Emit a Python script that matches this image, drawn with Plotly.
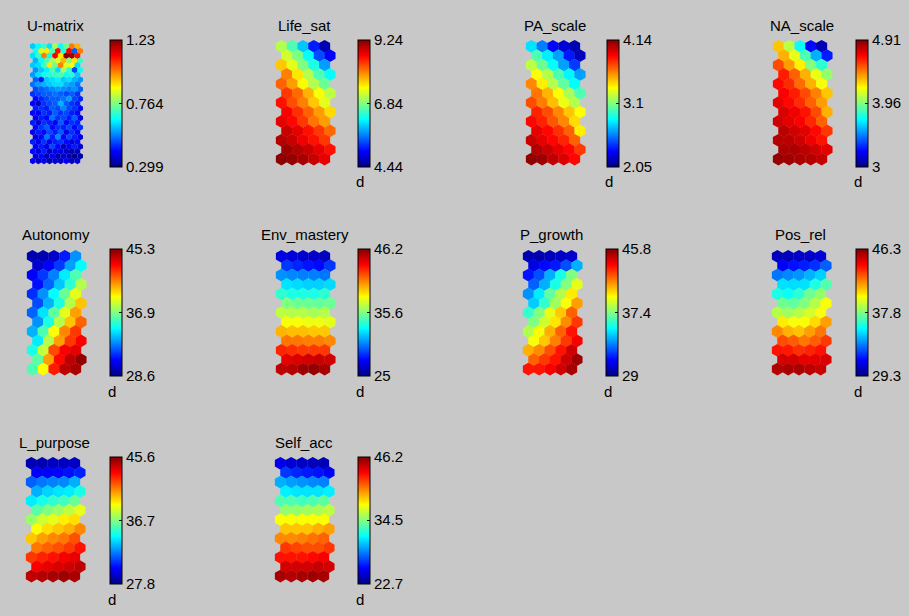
import plotly.graph_objects as go

# ---------------- data ----------------
names = ["U-matrix", "Life_sat", "PA_scale", "NA_scale", "Autonomy",
         "Env_mastery", "P_growth", "Pos_rel", "L_purpose", "Self_acc"]
range_min = [0.299, 4.44, 2.05, 3.0, 28.6, 25.0, 29.0, 29.3, 27.8, 22.7]
range_max = [1.23, 9.24, 4.14, 4.91, 45.3, 46.2, 45.8, 46.3, 45.6, 46.2]
range_mid = [0.764, 6.84, 3.1, 3.96, 36.9, 35.6, 37.4, 37.8, 36.7, 34.5]
tick_min = ["0.299", "4.44", "2.05", "3", "28.6", "25", "29", "29.3", "27.8", "22.7"]
tick_mid = ["0.764", "6.84", "3.1", "3.96", "36.9", "35.6", "37.4", "37.8", "36.7", "34.5"]
tick_max = ["1.23", "9.24", "4.14", "4.91", "45.3", "46.2", "45.8", "46.3", "45.6", "46.2"]
unit_label = ["", "d", "d", "d", "d", "d", "d", "d", "d", "d"]

umatrix = [
    [0.60, 0.65, 0.70, 0.62, 0.80, 0.66, 0.75, 1.00, 0.95],
    [0.66, 0.85, 0.90, 0.72, 1.10, 0.68, 1.12, 0.50, 1.00],
    [0.62, 0.70, 1.00, 0.66, 1.12, 0.90, 1.22, 1.20, 1.10],
    [0.58, 0.65, 0.72, 0.80, 0.85, 0.95, 0.78, 0.90, 0.70],
    [0.60, 0.62, 0.70, 0.90, 0.75, 1.00, 0.85, 0.88, 0.62],
    [0.55, 0.60, 0.64, 0.72, 0.62, 0.80, 0.70, 0.48, 0.66],
    [0.56, 0.62, 0.66, 0.68, 0.70, 0.72, 0.66, 0.68, 0.60],
    [0.50, 0.44, 0.60, 0.62, 0.64, 0.60, 0.62, 0.58, 0.55],
    [0.52, 0.56, 0.58, 0.60, 0.62, 0.62, 0.58, 0.56, 0.52],
    [0.48, 0.50, 0.52, 0.54, 0.56, 0.55, 0.53, 0.55, 0.50],
    [0.46, 0.48, 0.50, 0.50, 0.52, 0.50, 0.48, 0.50, 0.46],
    [0.42, 0.45, 0.48, 0.50, 0.50, 0.52, 0.56, 0.48, 0.45],
    [0.40, 0.36, 0.46, 0.48, 0.50, 0.58, 0.50, 0.46, 0.44],
    [0.44, 0.46, 0.44, 0.50, 0.48, 0.54, 0.48, 0.46, 0.42],
    [0.42, 0.40, 0.46, 0.44, 0.50, 0.46, 0.48, 0.44, 0.42],
    [0.40, 0.44, 0.42, 0.52, 0.46, 0.48, 0.44, 0.50, 0.40],
    [0.44, 0.38, 0.46, 0.44, 0.40, 0.50, 0.42, 0.46, 0.44],
    [0.42, 0.46, 0.50, 0.42, 0.46, 0.44, 0.48, 0.42, 0.46],
    [0.40, 0.44, 0.42, 0.48, 0.44, 0.50, 0.40, 0.46, 0.42],
    [0.38, 0.42, 0.52, 0.44, 0.54, 0.42, 0.48, 0.44, 0.40],
    [0.44, 0.40, 0.46, 0.40, 0.44, 0.46, 0.42, 0.38, 0.42],
    [0.40, 0.44, 0.40, 0.48, 0.42, 0.36, 0.40, 0.44, 0.38],
    [0.42, 0.38, 0.44, 0.36, 0.40, 0.38, 0.36, 0.34, 0.36],
    [0.38, 0.42, 0.36, 0.40, 0.34, 0.38, 0.35, 0.32, 0.34],
    [0.40, 0.36, 0.40, 0.34, 0.38, 0.36, 0.40, 0.36, 0.38],
]

life_sat = [
    [7.08, 6.60, 5.98, 5.16, 4.68],
    [7.22, 6.84, 6.26, 5.40, 5.02],
    [7.70, 7.32, 6.84, 6.36, 5.78],
    [8.04, 7.56, 7.08, 6.60, 6.26],
    [8.18, 7.90, 7.46, 7.08, 6.74],
    [8.38, 8.14, 7.80, 7.42, 7.13],
    [8.57, 8.28, 8.04, 7.70, 7.32],
    [8.66, 8.42, 8.18, 7.90, 7.61],
    [8.76, 8.62, 8.38, 8.09, 7.90],
    [8.90, 8.76, 8.57, 8.38, 8.14],
    [9.00, 8.90, 8.71, 8.57, 8.38],
    [9.10, 9.00, 8.90, 8.76, 8.57],
    [9.19, 9.14, 9.05, 8.90, 8.76],
]

pa_scale = [
    [2.78, 2.57, 2.32, 2.22, 2.15],
    [2.99, 2.80, 2.64, 2.36, 2.18],
    [3.22, 3.05, 2.84, 2.64, 2.43],
    [3.35, 3.20, 2.99, 2.82, 2.64],
    [3.60, 3.39, 3.20, 3.03, 2.84],
    [3.64, 3.51, 3.35, 3.18, 2.99],
    [3.72, 3.62, 3.49, 3.32, 3.20],
    [3.81, 3.72, 3.60, 3.47, 3.35],
    [3.87, 3.81, 3.70, 3.60, 3.43],
    [3.93, 3.87, 3.78, 3.68, 3.39],
    [3.99, 3.93, 3.87, 3.81, 3.68],
    [4.04, 3.99, 3.93, 3.87, 3.76],
    [4.10, 4.08, 4.01, 3.95, 3.87],
]

na_scale = [
    [4.30, 4.07, 3.73, 3.25, 3.10],
    [4.34, 4.15, 3.86, 3.57, 3.29],
    [4.53, 4.38, 4.22, 3.96, 3.80],
    [4.62, 4.49, 4.34, 4.15, 3.99],
    [4.66, 4.59, 4.47, 4.34, 4.18],
    [4.68, 4.62, 4.53, 4.43, 4.30],
    [4.72, 4.66, 4.59, 4.49, 4.38],
    [4.74, 4.70, 4.64, 4.53, 4.34],
    [4.76, 4.72, 4.68, 4.60, 4.49],
    [4.80, 4.76, 4.72, 4.66, 4.57],
    [4.81, 4.80, 4.76, 4.70, 4.64],
    [4.83, 4.83, 4.80, 4.76, 4.72],
    [4.87, 4.85, 4.83, 4.81, 4.78],
]

autonomy = [
    [29.4, 29.4, 29.8, 31.1, 33.1],
    [29.9, 30.6, 31.6, 33.3, 34.9],
    [30.6, 31.6, 32.8, 34.6, 36.1],
    [30.9, 32.3, 33.9, 35.6, 37.8],
    [31.4, 33.1, 34.9, 36.6, 38.6],
    [31.9, 33.6, 35.3, 37.8, 40.0],
    [32.3, 34.4, 36.4, 38.6, 40.6],
    [33.1, 35.3, 37.8, 40.0, 41.6],
    [33.6, 36.1, 39.0, 41.0, 42.3],
    [34.6, 37.8, 40.6, 42.3, 43.3],
    [35.3, 38.1, 42.0, 43.3, 43.6],
    [36.4, 40.6, 43.1, 44.3, 45.0],
    [36.1, 39.0, 42.8, 44.3, 44.6],
]

env_mastery = [
    [27.1, 26.9, 26.7, 26.5, 26.3],
    [28.8, 28.4, 28.0, 27.8, 28.8],
    [30.7, 30.5, 30.3, 30.3, 30.1],
    [32.4, 32.2, 32.0, 32.0, 32.2],
    [33.9, 33.5, 33.5, 33.5, 33.9],
    [35.6, 35.2, 35.2, 35.0, 35.2],
    [36.9, 36.7, 36.7, 36.4, 36.7],
    [38.1, 38.1, 37.9, 37.9, 37.7],
    [39.8, 39.6, 39.6, 39.4, 39.4],
    [41.1, 41.1, 40.9, 40.9, 40.7],
    [42.8, 42.6, 42.4, 42.4, 42.4],
    [44.1, 44.3, 44.5, 44.7, 44.5],
    [44.9, 45.1, 45.6, 45.8, 45.4],
]

p_growth = [
    [29.8, 29.8, 30.0, 30.2, 30.3],
    [30.7, 31.2, 31.5, 32.4, 34.0],
    [31.4, 32.4, 34.0, 35.7, 37.4],
    [32.7, 34.0, 35.7, 37.4, 39.1],
    [33.5, 35.0, 36.9, 38.2, 39.8],
    [34.5, 36.1, 37.9, 39.4, 41.1],
    [36.1, 37.4, 39.1, 40.4, 42.1],
    [37.4, 38.7, 39.9, 41.4, 42.8],
    [38.2, 39.4, 40.8, 42.1, 43.4],
    [39.4, 40.4, 41.6, 42.8, 43.8],
    [40.8, 41.4, 42.4, 43.4, 44.5],
    [42.1, 42.8, 43.4, 44.5, 45.3],
    [43.4, 43.4, 43.8, 44.5, 45.1],
]

pos_rel = [
    [30.3, 30.3, 30.5, 30.5, 30.7],
    [31.3, 31.7, 31.9, 32.2, 33.0],
    [33.4, 33.7, 33.9, 34.4, 34.9],
    [35.2, 35.1, 35.2, 36.1, 37.0],
    [36.1, 35.8, 36.4, 37.5, 38.1],
    [37.5, 37.3, 37.8, 38.7, 39.8],
    [38.7, 38.3, 38.7, 39.2, 39.8],
    [40.2, 39.8, 39.8, 40.5, 41.5],
    [41.9, 41.2, 40.9, 41.5, 42.2],
    [42.9, 42.6, 42.2, 42.6, 43.2],
    [43.9, 43.8, 43.4, 43.6, 43.9],
    [44.9, 44.9, 44.6, 44.6, 44.8],
    [45.5, 45.6, 45.6, 45.3, 45.1],
]

l_purpose = [
    [28.7, 28.7, 28.9, 28.9, 29.0],
    [29.9, 29.9, 30.1, 30.3, 30.6],
    [31.7, 32.1, 32.3, 32.4, 33.1],
    [33.1, 33.7, 34.0, 34.2, 34.9],
    [34.2, 34.9, 35.3, 35.6, 36.3],
    [36.0, 36.7, 37.2, 37.8, 38.5],
    [37.1, 38.1, 38.5, 39.2, 39.5],
    [38.8, 39.5, 39.9, 40.3, 41.0],
    [39.9, 40.6, 41.0, 41.3, 42.0],
    [41.3, 41.7, 42.0, 42.4, 43.1],
    [42.4, 42.8, 43.1, 43.5, 43.8],
    [43.5, 43.8, 44.0, 44.2, 44.5],
    [44.5, 44.7, 44.9, 45.1, 44.9],
]

self_acc = [
    [25.1, 24.6, 24.3, 24.1, 23.9],
    [26.9, 26.5, 26.2, 26.0, 25.5],
    [29.7, 29.3, 29.0, 28.8, 28.6],
    [31.2, 30.9, 30.9, 30.9, 31.2],
    [33.3, 33.3, 33.0, 33.3, 33.7],
    [34.9, 34.9, 35.2, 35.4, 35.9],
    [37.3, 37.3, 37.3, 37.3, 37.3],
    [38.7, 38.7, 38.7, 39.2, 39.6],
    [40.1, 40.1, 40.3, 40.6, 41.0],
    [42.0, 41.7, 41.5, 41.5, 42.0],
    [42.9, 42.9, 42.9, 43.1, 43.4],
    [44.3, 44.3, 44.3, 44.6, 44.3],
    [45.3, 45.0, 45.3, 45.5, 45.3],
]

planes = [umatrix, life_sat, pa_scale, na_scale, autonomy,
          env_mastery, p_growth, pos_rel, l_purpose, self_acc]

# ---------------- layout (pixels) ----------------
W, H = 909, 616
# plane left, plane top, colorbar left, colorbar top
boxes = [
    (30, 43, 110, 40), (276, 40, 358, 40), (526, 40, 607, 40), (773, 40, 856, 40),
    (27, 250, 110, 249), (276, 250, 358, 249), (523, 250, 606, 249), (772, 250, 856, 249),
    (26, 457, 110, 457), (275, 457, 358, 457),
]
title_y = [25, 25, 25, 25, 234, 234, 234, 234, 442, 442]
CB_LEN = 127

JET = [[0.0, "rgb(0,0,128)"], [0.125, "rgb(0,0,255)"], [0.375, "rgb(0,255,255)"],
       [0.625, "rgb(255,255,0)"], [0.875, "rgb(255,0,0)"], [1.0, "rgb(128,0,0)"]]
FONT = "Liberation Sans, Arial, Helvetica, sans-serif"
BG = "#C8C8C8"

fig = go.Figure()
annotations = []
layout_axes = {}

for i, vals in enumerate(planes):
    nrow, ncol = len(vals), len(vals[0])
    px0, py0, cbx, cby = boxes[i]
    if i == 0:
        cs, rs = 53.0 / 9.5, 4.78
    else:
        cs, rs = 10.8, 9.4
    hh = rs / 0.75            # hexagon height in px
    wpx = (ncol + 0.5) * cs
    hpx = (nrow - 1) * rs + hh
    xs, ys, cs_vals = [], [], []
    for r in range(nrow):
        for c in range(ncol):
            xs.append(c + 0.5 * (r % 2))
            ys.append(r)
            cs_vals.append(vals[r][c])
    k = i + 1
    xa = "x" if k == 1 else f"x{k}"
    ya = "y" if k == 1 else f"y{k}"
    half = hh / (2 * rs)
    layout_axes["xaxis" if k == 1 else f"xaxis{k}"] = dict(
        domain=[px0 / W, (px0 + wpx) / W], range=[-0.5, ncol], visible=False,
        anchor=ya, fixedrange=True)
    layout_axes["yaxis" if k == 1 else f"yaxis{k}"] = dict(
        domain=[1 - (py0 + hpx) / H, 1 - py0 / H], range=[nrow - 1 + half, -half],
        visible=False, anchor=xa, fixedrange=True)
    fig.add_trace(go.Scatter(
        x=xs, y=ys, mode="markers", xaxis=xa, yaxis=ya, cliponaxis=False,
        hoverinfo="skip", showlegend=False,
        marker=dict(
            symbol="hexagon", size=hh * 1.02, color=cs_vals, colorscale=JET,
            cmin=range_min[i], cmax=range_max[i], line=dict(width=0),
            colorbar=dict(
                x=cbx / W, xanchor="left", y=1 - (cby + CB_LEN / 2) / H, yanchor="middle",
                len=CB_LEN, lenmode="pixels", thickness=12, thicknessmode="pixels",
                xpad=0, ypad=0, outlinewidth=1, outlinecolor="black",
                borderwidth=0, bgcolor="rgba(0,0,0,0)",
                tickmode="array",
                tickvals=[range_min[i], range_mid[i], range_max[i]],
                ticktext=[tick_min[i], tick_mid[i], tick_max[i]],
                ticks="inside", ticklen=3, tickcolor="black", tickwidth=1,
                tickfont=dict(family=FONT, size=15, color="black"),
            ),
        ),
    ))
    annotations.append(dict(
        text=names[i], x=(px0 + wpx / 2 - 1) / W, y=1 - title_y[i] / H,
        xref="paper", yref="paper", xanchor="center", yanchor="middle",
        showarrow=False, font=dict(family=FONT, size=15, color="black")))
    if unit_label[i]:
        annotations.append(dict(
            text=unit_label[i], x=(cbx + 2) / W, y=1 - (cby + CB_LEN + 15) / H,
            xref="paper", yref="paper", xanchor="center", yanchor="middle",
            showarrow=False, font=dict(family=FONT, size=15, color="black")))

fig.update_layout(
    width=W, height=H, margin=dict(l=0, r=0, t=0, b=0),
    paper_bgcolor=BG, plot_bgcolor="rgba(0,0,0,0)",
    annotations=annotations, **layout_axes)

fig.write_html(
    "out.html",
    config={"displayModeBar": False, "staticPlot": True},
    post_script="document.body.style.margin='0';document.body.style.overflow='hidden';"
                "document.body.style.background='" + BG + "';",
)
